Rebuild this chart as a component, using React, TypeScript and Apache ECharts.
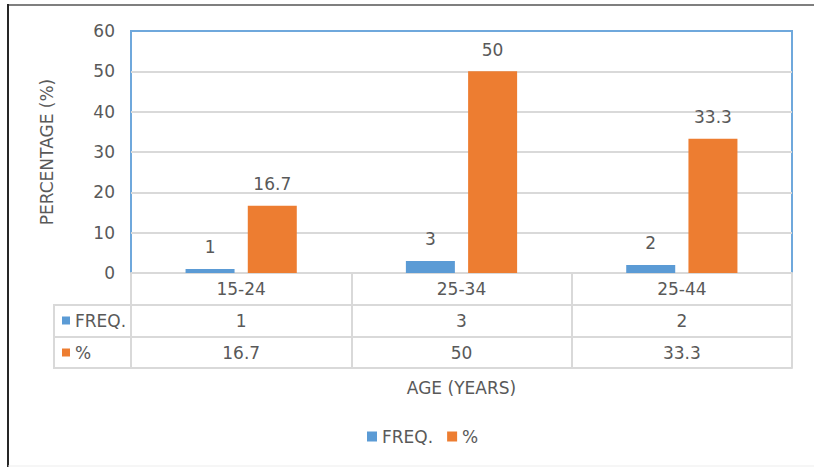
import React, { useEffect, useRef } from "react";
import * as echarts from "echarts";

const categories = ["15-24", "25-34", "25-44"];
const freqValues = [1, 3, 2];
const pctValues = [16.7, 50, 33.3];
const seriesNames = ["FREQ.", "%"];
const yTicks = { min: 0, max: 60, interval: 10 };

const FONT = "DejaVu Sans";
const FS = 17;
const TEXT = "#595959";
const GRIDC = "#D9D9D9";
const BLUE = "#5B9BD5";
const ORANGE = "#ED7D31";

export default function App() {
  const ref = useRef<HTMLDivElement>(null);
  useEffect(() => {
    if (!ref.current) return;
    const chart = echarts.init(ref.current, null, { renderer: "svg" });
    const tableAxis = (data: (string | number)[], offset: number, extra: any = {}) => ({
      type: "category",
      data: data.map(String),
      position: "bottom",
      offset,
      boundaryGap: true,
      axisLine: { show: true, lineStyle: { color: GRIDC, width: 2 } },
      axisTick: { show: false },
      axisLabel: { show: true, margin: 7, color: TEXT, fontSize: FS, fontFamily: FONT },
      splitLine: { show: false },
      ...extra,
    });
    const rowLegend = (name: string, top: number) => ({
      data: [name],
      left: 57,
      top,
      icon: "rect",
      itemWidth: 8,
      itemHeight: 8,
      itemGap: 0,
      selectedMode: false,
      textStyle: { color: TEXT, fontSize: FS, fontFamily: FONT },
    });
    chart.setOption({
      animation: false,
      textStyle: { fontFamily: FONT },
      grid: {
        left: 131,
        right: 22,
        top: 31,
        bottom: 195,
        show: true,
        borderColor: "#6FA8DC",
        borderWidth: 2,
        backgroundColor: "transparent",
        containLabel: false,
      },
      xAxis: [
        {
          type: "category",
          data: categories,
          position: "bottom",
          boundaryGap: true,
          axisLine: { show: true, lineStyle: { color: GRIDC, width: 2 } },
          axisTick: { show: true, length: 95, inside: false, lineStyle: { color: GRIDC, width: 2 } },
          axisLabel: { margin: 7, color: TEXT, fontSize: FS, fontFamily: FONT },
          splitLine: { show: false },
        },
        tableAxis(freqValues, 32),
        tableAxis(pctValues, 64),
        tableAxis(categories.map(() => ""), 95, {
          axisLabel: { show: false },
          name: "AGE (YEARS)",
          nameLocation: "middle",
          nameGap: 11,
          nameTextStyle: { color: TEXT, fontSize: FS, fontFamily: FONT },
        }),
      ],
      yAxis: {
        type: "value",
        min: yTicks.min,
        max: yTicks.max,
        interval: yTicks.interval,
        axisLine: { show: false },
        axisTick: { show: false },
        axisLabel: { margin: 16, color: TEXT, fontSize: FS, fontFamily: FONT },
        splitLine: { showMaxLine: false, lineStyle: { color: GRIDC, width: 2 } },
        name: "PERCENTAGE (%)",
        nameLocation: "middle",
        nameGap: 76,
        nameTextStyle: { color: TEXT, fontSize: FS, fontFamily: FONT },
      },
      legend: [
        {
          data: seriesNames,
          left: 362,
          top: 423,
          icon: "rect",
          itemWidth: 10,
          itemHeight: 10,
          itemGap: 14,
          selectedMode: false,
          textStyle: { color: TEXT, fontSize: FS, fontFamily: FONT },
        },
        rowLegend(seriesNames[0], 307),
        rowLegend(seriesNames[1], 339),
      ],
      series: [
        {
          name: seriesNames[0],
          type: "bar",
          data: freqValues,
          barWidth: 49,
          barGap: "27%",
          itemStyle: { color: BLUE },
          label: { show: true, position: "top", distance: 13, color: TEXT, fontSize: FS, fontFamily: FONT },
        },
        {
          name: seriesNames[1],
          type: "bar",
          data: pctValues,
          barWidth: 49,
          itemStyle: { color: ORANGE },
          label: { show: true, position: "top", distance: 13, color: TEXT, fontSize: FS, fontFamily: FONT },
        },
      ],
      graphic: [
        { type: "line", shape: { x1: 8, y1: 5, x2: 814, y2: 5 }, style: { stroke: "#7F7F7F", lineWidth: 2 } },
        { type: "line", shape: { x1: 8, y1: 4, x2: 8, y2: 467 }, style: { stroke: "#262626", lineWidth: 2 } },
        { type: "line", shape: { x1: 8, y1: 466, x2: 814, y2: 466 }, style: { stroke: "#EDEDED", lineWidth: 1 } },
        { type: "line", shape: { x1: 54, y1: 305, x2: 131, y2: 305 }, style: { stroke: GRIDC, lineWidth: 2 } },
        { type: "line", shape: { x1: 54, y1: 337, x2: 131, y2: 337 }, style: { stroke: GRIDC, lineWidth: 2 } },
        { type: "line", shape: { x1: 54, y1: 368, x2: 131, y2: 368 }, style: { stroke: GRIDC, lineWidth: 2 } },
        { type: "line", shape: { x1: 54, y1: 304, x2: 54, y2: 369 }, style: { stroke: GRIDC, lineWidth: 2 } },
      ],
    });
    return () => chart.dispose();
  }, []);
  return (
    <div
      ref={ref}
      style={{ position: "fixed", left: 0, top: 0, width: 814, height: 468, background: "#fff" }}
    />
  );
}
